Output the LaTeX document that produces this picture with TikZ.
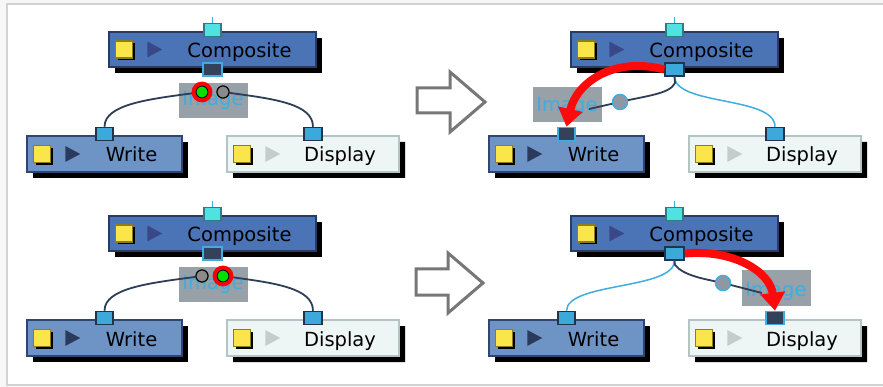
\documentclass[tikz,border=0pt]{standalone}
\usepackage{fontspec}
\setmainfont{DejaVu Sans}
\usetikzlibrary{shapes.misc,shadows,arrows.meta,calc}
\definecolor{compF}{HTML}{4A74B6}
\definecolor{compB}{HTML}{2A3A60}
\definecolor{writeF}{HTML}{6E94C6}
\definecolor{writeB}{HTML}{2E4670}
\definecolor{dispF}{HTML}{EEF5F5}
\definecolor{dispB}{HTML}{B4C4C4}
\definecolor{yel}{HTML}{FAE54A}
\definecolor{yelB}{HTML}{8C7E1E}
\definecolor{cyanF}{HTML}{50E2E2}
\definecolor{cyanB}{HTML}{2E7C84}
\definecolor{portF}{HTML}{3DA8DA}
\definecolor{portB}{HTML}{22344C}
\definecolor{darkP}{HTML}{33425A}
\definecolor{lblue}{HTML}{3EAEE0}
\definecolor{lbl}{HTML}{98A0A8}
\definecolor{wire}{HTML}{2E3E56}
\definecolor{arrowG}{HTML}{777777}
\definecolor{frameG}{HTML}{D2D2D2}
\definecolor{bgG}{HTML}{F7F7F7}
\definecolor{triC}{HTML}{3A4888}
\definecolor{triW}{HTML}{2A3A5C}
\definecolor{triD}{HTML}{C4CCCC}
\definecolor{greenP}{HTML}{00E000}
\definecolor{greyP}{HTML}{8A8A8A}
\definecolor{ghost}{HTML}{8E98A4}
\definecolor{redA}{HTML}{FF0A0A}

\tikzset{
  shad/.style={drop shadow={shadow xshift=6pt, shadow yshift=-6pt, fill=black, opacity=1}},
  compbox/.style={rectangle, minimum width=207pt, minimum height=35pt, inner sep=0, fill=compF, draw=compB, line width=1.5pt, shad},
  writebox/.style={rectangle, minimum width=155pt, minimum height=36pt, inner sep=0, fill=writeF, draw=writeB, line width=1.5pt, shad},
  dispbox/.style={chamfered rectangle, chamfered rectangle corners=north east, chamfered rectangle xsep=6pt, chamfered rectangle ysep=6pt, minimum width=172pt, minimum height=36pt, inner sep=0, fill=dispF, draw=dispB, line width=1.5pt, shad},
  port/.style={rectangle, minimum width=17pt, minimum height=13pt, inner sep=0, line width=1.5pt},
  bport/.style={port, fill=portF, draw=portB},
  dport/.style={port, fill=darkP, draw=lblue},
  cport/.style={port, fill=cyanF, draw=cyanB},
  yelsq/.style={rectangle, minimum size=17pt, inner sep=0, fill=yel, draw=yelB, line width=1.2pt, drop shadow={shadow xshift=2.5pt, shadow yshift=-2.5pt, fill=black, opacity=1}},
  lblbox/.style={rectangle, fill=lbl, minimum width=69pt, minimum height=35pt, inner sep=0},
  lbltxt/.style={text=lblue, anchor=base, inner sep=0},
  wireline/.style={draw=wire, line width=1.8pt},
  bluewire/.style={draw=lblue, line width=1.5pt},
  plug/.style={circle, minimum size=12pt, inner sep=0, draw=black, line width=1pt},
  ring/.style={circle, minimum size=17pt, inner sep=0, draw=red, line width=3.8pt},
  ghostplug/.style={circle, minimum size=15pt, inner sep=0, fill=ghost, draw=lblue, line width=1.2pt},
  redarrow/.style={draw=redA, line width=8pt, -{Triangle[width=24pt,length=18pt]}},
  hollow/.style={draw=arrowG, fill=white, line width=3pt, line join=miter},
}

\newcommand{\nodeparts}[3]{%
  \node[yelsq] (#1y) at ([xshift=15.5pt]#1.west) {};
  \fill[#2] ([xshift=39pt,yshift=8pt]#1.west) -- ([xshift=39pt,yshift=-8pt]#1.west) -- ([xshift=54pt]#1.west) -- cycle;
  \path ($([xshift=54pt]#1.west)!0.5!(#1.east)$) ++(0,8) node[anchor=base, inner sep=0] (#1t) {#3};
}

\newcommand{\drawpanel}[6]{%
  \begin{scope}[shift={(#2,#3)}]
    \coordinate (#1top) at (212.5,17);
    \node[compbox] (#1comp) at (212.5,49.5) {};
    \node[writebox] (#1write) at (104.5,154) {};
    \node[dispbox] (#1disp) at (313,154) {};
    \node[cport] (#1cin) at (212.5,30) {};
    \node[port,#4,minimum width=19pt] (#1cout) at (212.5,69.5) {};
    \node[port,#5] (#1win) at (104.5,134) {};
    \node[port,#6,minimum width=18pt] (#1din) at (313,134) {};
  \end{scope}
  \draw[bluewire] (#1cin.north) -- (#1top);
  \nodeparts{#1comp}{triC}{Composite}
  \nodeparts{#1write}{triW}{Write}
  \nodeparts{#1disp}{triD}{Display}
}

\begin{document}
\begin{tikzpicture}[x=1pt, y=-1pt, font=\fontsize{19.5}{23}\selectfont]
\useasboundingbox (0,0) rectangle (883,387);
\fill[bgG] (0,0) rectangle (883,387);
\filldraw[fill=white, draw=frameG, line width=2pt] (7,4) rectangle (895,384.5);

% hollow arrows
\draw[hollow] (417,88) -- (450,88) -- (450,72) -- (485,102) -- (450,132) -- (450,113) -- (417,113) -- cycle;
\draw[hollow] (416,269) -- (448,269) -- (448,253) -- (483,283) -- (448,313) -- (448,295) -- (416,295) -- cycle;

% ---------- top left ----------
\drawpanel{a}{0}{0}{dport}{bport}{bport}
\node[lblbox] (albl) at (213.5,100.5) {};
\node[lbltxt] (altxt) at (213,106) {Image};
\node[plug, fill=greenP] (agreen) at (202,92) {};
\node[plug, fill=greyP] (agrey) at (223,92) {};
\draw[wireline] (agreen) .. controls (150,99) and (104.5,104) .. (awin.north);
\draw[wireline] (agrey) .. controls (275,99) and (313,104) .. (adin.north);
\node[plug, fill=greenP] at (agreen) {};
\node[plug, fill=greyP] at (agrey) {};
\node[ring] (aring) at (agreen) {};

% ---------- bottom left ----------
\drawpanel{c}{0}{184}{dport}{bport}{bport}
\node[lblbox] (clbl) at (213.5,284.5) {};
\node[lbltxt] (cltxt) at (213,290) {Image};
\node[plug, fill=greyP] (cgrey) at (202,276) {};
\node[plug, fill=greenP] (cgreen) at (223,276) {};
\draw[wireline] (cgrey) .. controls (150,283) and (104.5,288) .. (cwin.north);
\draw[wireline] (cgreen) .. controls (275,283) and (313,288) .. (cdin.north);
\node[plug, fill=greyP] at (cgrey) {};
\node[plug, fill=greenP] at (cgreen) {};
\node[ring] (cring) at (cgreen) {};

% ---------- top right ----------
\drawpanel{b}{462}{0}{bport}{dport}{bport}
\node[lblbox] (blbl) at (567.5,104.5) {};
\node[lbltxt] (bltxt) at (567,112) {Image};
\coordinate (bend) at (589,109);
\coordinate (bknee) at (675,83);
\node[ghostplug] (bghost) at (620,102) {};
\draw[bluewire] (bcout.south) .. controls (676,106) and (775,96) .. (bdin.north);
\draw[wireline] (bcout.south) -- (bknee) .. controls (670,94) and (645,96) .. (bghost.center) -- (bend);
\node[ghostplug] at (bghost) {};
\draw[redarrow] (bcout.west) .. controls (612,56) and (576,84) .. (bwin.north);

% ---------- bottom right ----------
\drawpanel{d}{462}{184}{bport}{bport}{dport}
\node[lblbox] (dlbl) at (776,288) {};
\node[lbltxt] (dltxt) at (776,296) {Image};
\coordinate (dend) at (762,293);
\coordinate (dknee) at (675,265);
\node[ghostplug] (dghost) at (723,283) {};
\draw[bluewire] (dcout.south) .. controls (674,290) and (567,282) .. (dwin.north);
\draw[wireline] (dcout.south) -- (dknee) .. controls (684,276) and (705,279) .. (dghost.center) -- (dend);
\node[ghostplug] at (dghost) {};
\draw[redarrow] (dcout.east) .. controls (734,249) and (770,272) .. (ddin.north);
\end{tikzpicture}
\end{document}
